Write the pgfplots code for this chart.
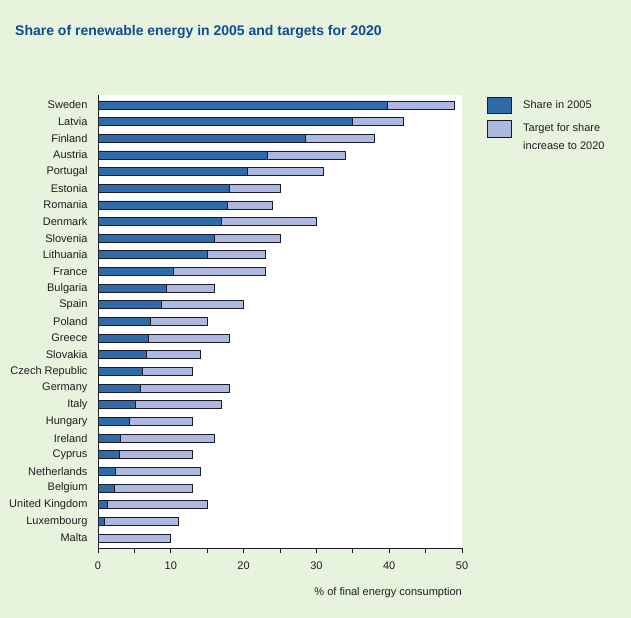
\documentclass[border=0pt]{standalone}
\usepackage{fontspec}
\setmainfont{Liberation Sans}
\usepackage{pgfplots}
\usepackage{pgfplotstable}
\pgfplotsset{compat=1.18}
\definecolor{bg}{RGB}{232,243,222}
\definecolor{darkbar}{RGB}{47,106,170}
\definecolor{lightbar}{RGB}{173,185,224}
\definecolor{titleblue}{RGB}{16,74,150}
\definecolor{edge}{RGB}{28,28,38}
\definecolor{txt}{RGB}{30,30,30}

\pgfplotstableread[col sep=comma]{
name,share,inc
Sweden,39.8,9.2
Latvia,34.9,7.1
Finland,28.5,9.5
Austria,23.3,10.7
Portugal,20.5,10.5
Estonia,18.0,7.0
Romania,17.8,6.2
Denmark,17.0,13.0
Slovenia,16.0,9.0
Lithuania,15.0,8.0
France,10.3,12.7
Bulgaria,9.4,6.6
Spain,8.7,11.3
Poland,7.2,7.8
Greece,6.9,11.1
Slovakia,6.7,7.3
Czech Republic,6.1,6.9
Germany,5.8,12.2
Italy,5.2,11.8
Hungary,4.3,8.7
Ireland,3.1,12.9
Cyprus,2.9,10.1
Netherlands,2.4,11.6
Belgium,2.2,10.8
United Kingdom,1.3,13.7
Luxembourg,0.9,10.1
Malta,0.0,10.0
}\datatable

\begin{document}
\begin{tikzpicture}
\fill[bg] (0,0) rectangle (631bp,618bp);
\useasboundingbox (0,0) rectangle (631bp,618bp);
\begin{axis}[
  at={(98bp,70bp)}, anchor=south west,
  width=364bp, height=453bp, scale only axis,
  xbar stacked, bar width=8bp,
  xmin=0, xmax=50,
  ymin=-0.6, ymax=26.6, y dir=reverse,
  axis x line=bottom, axis y line=left,
  axis line style={edge, line width=0.8pt, -},
  axis background/.style={fill=white},
  xtick={0,10,...,50}, minor xtick={5,15,...,45},
  tick align=outside, major tick length=5bp, minor tick length=5bp,
  x tick style={edge, line width=0.8pt},
  ytick={0,...,26},
  yticklabels from table={\datatable}{name},
  y tick style={draw=none},
  tick label style={font=\fontsize{11bp}{13bp}\selectfont, text=txt},
  /pgf/number format/assume math mode=true,
  xticklabel style={yshift=-5bp},
  yticklabel style={xshift=-2bp},
]
\addplot[fill=darkbar, draw=edge, line width=0.8pt] table[x=share, y expr=\coordindex] {\datatable};
\addplot[fill=lightbar, draw=edge, line width=0.8pt] table[x=inc, y expr=\coordindex] {\datatable};
\end{axis}
% title
\node[anchor=base west, inner sep=0, text=titleblue, font=\fontsize{14bp}{16bp}\selectfont\bfseries] at (15bp,582bp) {Share of renewable energy in 2005 and targets for 2020};
% x label
\node[anchor=base east, inner sep=0, text=txt, font=\fontsize{11bp}{13bp}\selectfont] at (462bp,23bp) {\% of final energy consumption};
% legend
\draw[edge, line width=0.8pt, fill=darkbar] (487bp,505bp) rectangle (511bp,521bp);
\draw[edge, line width=0.8pt, fill=lightbar] (487bp,481bp) rectangle (511bp,498bp);
\node[anchor=base west, inner sep=0, text=txt, font=\fontsize{11bp}{13bp}\selectfont] at (523bp,509bp) {Share in 2005};
\node[anchor=base west, inner sep=0, text=txt, font=\fontsize{11bp}{13bp}\selectfont] at (523bp,486bp) {Target for share};
\node[anchor=base west, inner sep=0, text=txt, font=\fontsize{11bp}{13bp}\selectfont] at (523bp,468bp) {increase to 2020};
\end{tikzpicture}
\end{document}
